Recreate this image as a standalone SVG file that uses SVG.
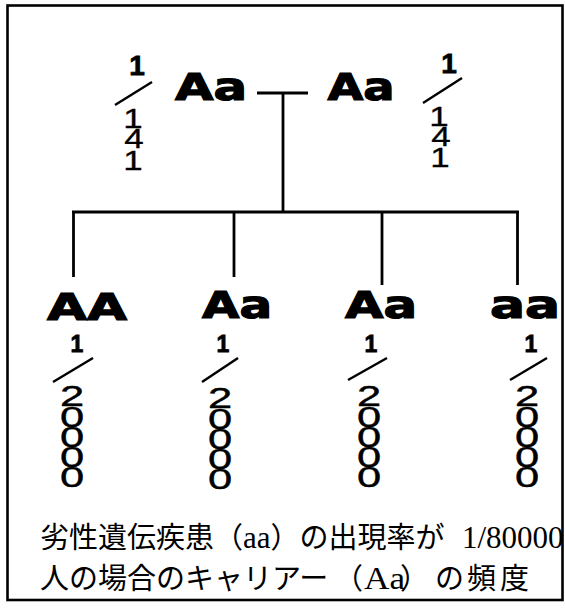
<svg xmlns="http://www.w3.org/2000/svg" width="565" height="608" viewBox="0 0 565 608">
<style>
.big{font-family:"DejaVu Sans","Liberation Sans",sans-serif;font-weight:bold;font-size:37px;fill:#000;stroke:#000;stroke-width:1.2;text-anchor:middle}
.one{font-family:"Liberation Sans",Arial,sans-serif;font-weight:bold;text-anchor:middle;fill:#000;stroke:#000;stroke-width:0.8}
.dig{font-family:"Liberation Sans",Arial,sans-serif;font-size:28px;text-anchor:middle;fill:#000;stroke:#000;stroke-width:0.3}
.z{font-family:"Liberation Sans",Arial,sans-serif;font-size:29px;text-anchor:middle;fill:#000;stroke:#000;stroke-width:0.4}
.ln{stroke:#000;stroke-width:2.8;fill:none;stroke-linecap:butt}
.sl{stroke:#000;stroke-width:2.4}
.cap{font-family:"Noto Sans CJK JP","Noto Sans CJK SC",sans-serif;font-size:29px;fill:#000}
.lat{font-family:"Liberation Serif","Times New Roman",serif;font-size:31px}
</style>
<rect x="0" y="0" width="565" height="608" fill="#fff"/>
<rect x="7.5" y="5.5" width="555" height="594.5" fill="none" stroke="#000" stroke-width="2.6"/>

<g id="connectors">
<line class="ln" x1="257" y1="93" x2="308" y2="93"/>
<line class="ln" x1="283" y1="93" x2="283" y2="212"/>
<line class="ln" x1="72" y1="212" x2="519" y2="212"/>
<line class="ln" x1="73.5" y1="212" x2="73.5" y2="277"/>
<line class="ln" x1="234" y1="212" x2="234" y2="277"/>
<line class="ln" x1="382" y1="212" x2="382" y2="285"/>
<line class="ln" x1="517.5" y1="212" x2="517.5" y2="285"/>
</g>

<g id="parent-left">
<text class="big" x="211" y="100" textLength="72" lengthAdjust="spacingAndGlyphs">Aa</text>
<text class="one" x="137" y="75" font-size="28">1</text>
<line class="sl" x1="115" y1="105" x2="152" y2="82"/>
<text class="dig" transform="translate(133,0) scale(1.25,1)"><tspan x="0" y="128">1</tspan><tspan x="0.8" y="148">4</tspan><tspan x="0" y="170">1</tspan></text>
</g>

<g id="parent-right">
<text class="big" x="361" y="100" textLength="67" lengthAdjust="spacingAndGlyphs">Aa</text>
<text class="one" x="449" y="73" font-size="28">1</text>
<line class="sl" x1="423" y1="103" x2="462" y2="78"/>
<text class="dig" transform="translate(440,0) scale(1.25,1)"><tspan x="-0.8" y="126">1</tspan><tspan x="0.8" y="146">4</tspan><tspan x="0" y="167">1</tspan></text>
</g>

<g id="child-AA">
<text class="big" x="87" y="320" textLength="80" lengthAdjust="spacingAndGlyphs">AA</text>
<text class="one" x="77" y="352" font-size="23">1</text>
<line class="sl" x1="53" y1="382" x2="93" y2="358"/>
<text class="z" transform="translate(72,0) scale(1.5,1)"><tspan x="0" y="406">2</tspan><tspan x="0" y="427">0</tspan><tspan x="0" y="447">0</tspan><tspan x="0" y="467">0</tspan><tspan x="0" y="487">0</tspan></text>
</g>

<g id="child-Aa-1">
<text class="big" x="237" y="318" textLength="70" lengthAdjust="spacingAndGlyphs">Aa</text>
<text class="one" x="223" y="352" font-size="23">1</text>
<line class="sl" x1="202" y1="382" x2="238" y2="358"/>
<text class="z" transform="translate(220,0) scale(1.5,1)"><tspan x="0" y="408">2</tspan><tspan x="0" y="429">0</tspan><tspan x="0" y="449">0</tspan><tspan x="0" y="469">0</tspan><tspan x="0" y="489">0</tspan></text>
</g>

<g id="child-Aa-2">
<text class="big" x="381" y="318" textLength="72" lengthAdjust="spacingAndGlyphs">Aa</text>
<text class="one" x="371" y="352" font-size="23">1</text>
<line class="sl" x1="348" y1="380" x2="387" y2="358"/>
<text class="z" transform="translate(369,0) scale(1.5,1)"><tspan x="0" y="406">2</tspan><tspan x="0" y="427">0</tspan><tspan x="0" y="447">0</tspan><tspan x="0" y="467">0</tspan><tspan x="0" y="487">0</tspan></text>
</g>

<g id="child-aa">
<text class="big" x="525" y="318" textLength="70" lengthAdjust="spacingAndGlyphs">aa</text>
<text class="one" x="531" y="352" font-size="23">1</text>
<line class="sl" x1="510" y1="380" x2="547" y2="358"/>
<text class="z" transform="translate(527,0) scale(1.5,1)"><tspan x="0" y="406">2</tspan><tspan x="0" y="427">0</tspan><tspan x="0" y="447">0</tspan><tspan x="0" y="467">0</tspan><tspan x="0" y="487">0</tspan></text>
</g>

<g id="caption">
<text class="cap" x="40" y="548">劣性遺伝疾患（<tspan class="lat">aa</tspan>）の出現率が<tspan class="lat" x="462">1/80000</tspan></text>
<text class="cap" x="40" y="589">人の場合のキャリアー<tspan x="334">（</tspan><tspan class="lat" x="364" textLength="41" lengthAdjust="spacingAndGlyphs">Aa</tspan><tspan x="400">）</tspan><tspan x="435 467 500">の頻度</tspan></text>
</g>
</svg>
